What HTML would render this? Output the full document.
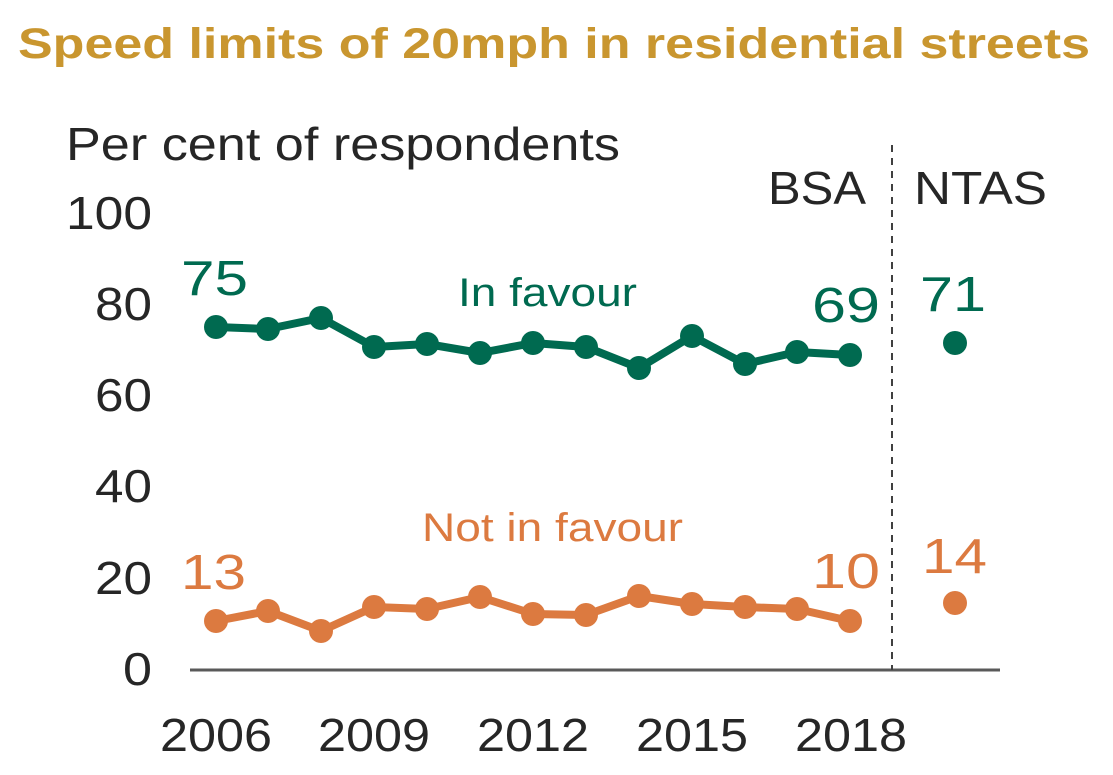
<!DOCTYPE html>
<html><head><meta charset="utf-8"><style>
html,body{margin:0;padding:0;background:#fff}
svg{display:block}
text{font-family:"Liberation Sans",sans-serif}
</style></head><body>
<svg width="1113" height="775" viewBox="0 0 1113 775">
<text x="18" y="58" font-size="43" font-weight="bold" fill="#c9962f" textLength="1072" lengthAdjust="spacingAndGlyphs">Speed limits of 20mph in residential streets</text>
<text x="66" y="160" font-size="46" fill="#262626" textLength="554" lengthAdjust="spacingAndGlyphs">Per cent of respondents</text>
<text x="768" y="204" font-size="46" fill="#262626" textLength="98" lengthAdjust="spacingAndGlyphs">BSA</text>
<text x="914" y="204" font-size="46" fill="#262626" textLength="133" lengthAdjust="spacingAndGlyphs">NTAS</text>
<g font-size="46" fill="#262626">
<text x="66" y="229" textLength="86" lengthAdjust="spacingAndGlyphs">100</text>
<text x="95" y="320" textLength="57" lengthAdjust="spacingAndGlyphs">80</text>
<text x="95" y="411" textLength="57" lengthAdjust="spacingAndGlyphs">60</text>
<text x="95" y="502" textLength="57" lengthAdjust="spacingAndGlyphs">40</text>
<text x="95" y="594" textLength="57" lengthAdjust="spacingAndGlyphs">20</text>
<text x="123" y="685" textLength="29" lengthAdjust="spacingAndGlyphs">0</text>
</g>
<g font-size="46" fill="#262626">
<text x="160" y="751" textLength="112" lengthAdjust="spacingAndGlyphs">2006</text>
<text x="318" y="751" textLength="112" lengthAdjust="spacingAndGlyphs">2009</text>
<text x="477" y="751" textLength="112" lengthAdjust="spacingAndGlyphs">2012</text>
<text x="636" y="751" textLength="112" lengthAdjust="spacingAndGlyphs">2015</text>
<text x="795" y="751" textLength="112" lengthAdjust="spacingAndGlyphs">2018</text>
</g>
<line x1="190" y1="670" x2="1000" y2="670" stroke="#595959" stroke-width="3"/>
<line x1="892" y1="145" x2="892" y2="670" stroke="#404040" stroke-width="2" stroke-dasharray="7,6"/>
<polyline fill="none" stroke="#006a50" stroke-width="8" stroke-linejoin="round" points="216,327 268,329 321,318 374,347 427,344 480,353 533,343 586,347 639,368 692,336 745,364 797,352 850,355"/>
<g fill="#006a50">
<circle cx="216" cy="327" r="12"/><circle cx="268" cy="329" r="12"/><circle cx="321" cy="318" r="12"/><circle cx="374" cy="347" r="12"/><circle cx="427" cy="344" r="12"/><circle cx="480" cy="353" r="12"/><circle cx="533" cy="343" r="12"/><circle cx="586" cy="347" r="12"/><circle cx="639" cy="368" r="12"/><circle cx="692" cy="336" r="12"/><circle cx="745" cy="364" r="12"/><circle cx="797" cy="352" r="12"/><circle cx="850" cy="355" r="12"/><circle cx="955" cy="343" r="12"/>
</g>
<polyline fill="none" stroke="#dc7a40" stroke-width="8" stroke-linejoin="round" points="216,621 268,611 321,631 374,607 427,609 480,597 533,614 586,615 639,596 692,604 745,607 797,609 850,621"/>
<g fill="#dc7a40">
<circle cx="216" cy="621" r="12"/><circle cx="268" cy="611" r="12"/><circle cx="321" cy="631" r="12"/><circle cx="374" cy="607" r="12"/><circle cx="427" cy="609" r="12"/><circle cx="480" cy="597" r="12"/><circle cx="533" cy="614" r="12"/><circle cx="586" cy="615" r="12"/><circle cx="639" cy="596" r="12"/><circle cx="692" cy="604" r="12"/><circle cx="745" cy="607" r="12"/><circle cx="797" cy="609" r="12"/><circle cx="850" cy="621" r="12"/><circle cx="955" cy="603" r="12"/>
</g>
<g font-size="49" fill="#006a50">
<text x="181" y="295" textLength="67" lengthAdjust="spacingAndGlyphs">75</text>
<text x="812" y="322" textLength="68" lengthAdjust="spacingAndGlyphs">69</text>
<text x="920" y="311" textLength="66" lengthAdjust="spacingAndGlyphs">71</text>
</g>
<text x="458" y="306" font-size="40" fill="#006a50" textLength="179" lengthAdjust="spacingAndGlyphs">In favour</text>
<g font-size="49" fill="#dc7a40">
<text x="181" y="589" textLength="65" lengthAdjust="spacingAndGlyphs">13</text>
<text x="812" y="588" textLength="68" lengthAdjust="spacingAndGlyphs">10</text>
<text x="922" y="573" textLength="65" lengthAdjust="spacingAndGlyphs">14</text>
</g>
<text x="422" y="541" font-size="40" fill="#dc7a40" textLength="261" lengthAdjust="spacingAndGlyphs">Not in favour</text>
</svg>
</body></html>
